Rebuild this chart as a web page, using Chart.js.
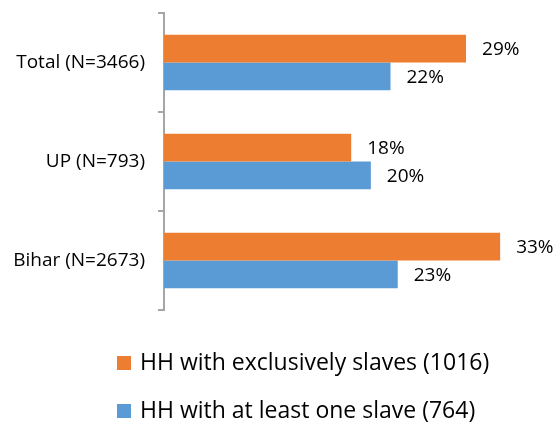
<!DOCTYPE html>
<html>
<head>
<meta charset="utf-8">
<script src="https://cdn.jsdelivr.net/npm/chart.js@4"></script>
<style>
  html, body { margin: 0; padding: 0; background: #fff; }
  #wrap { position: relative; width: 555px; height: 422px; }
</style>
</head>
<body>
<div id="wrap"><canvas id="chart" width="555" height="422"></canvas></div>
<script>
const categories = ["Total (N=3466)", "UP (N=793)", "Bihar (N=2673)"];
const seriesNames = ["HH with exclusively slaves (1016)", "HH with at least one slave (764)"];
const exclusivelySlaves = [29.2, 18.1, 32.5];
const atLeastOneSlave = [21.9, 20.0, 22.6];
const seriesColors = ["#ED7D31", "#5B9BD5"];

const FONT = "'Open Sans', 'Liberation Sans', sans-serif";

// valeurs en % au bout des barres
const barLabels = {
  id: "barLabels",
  afterDatasetsDraw(chart) {
    const ctx = chart.ctx;
    ctx.save();
    ctx.font = "19px " + FONT;
    ctx.fillStyle = "#000";
    ctx.textBaseline = "middle";
    ctx.textAlign = "left";
    chart.data.datasets.forEach(function (ds, i) {
      chart.getDatasetMeta(i).data.forEach(function (bar, j) {
        ctx.fillText(Math.round(ds.data[j]) + "%", bar.x + 16, bar.y + 1);
      });
    });
    ctx.restore();
  }
};

// légende verticale, alignée à gauche
const stackedLegend = {
  id: "stackedLegend",
  afterDraw(chart) {
    const ctx = chart.ctx;
    ctx.save();
    ctx.font = "23px " + FONT;
    ctx.textBaseline = "middle";
    chart.data.datasets.forEach(function (ds, i) {
      const y = 363 + i * 48;
      ctx.fillStyle = ds.backgroundColor;
      ctx.fillRect(117, y - 7, 14, 14);
      ctx.fillStyle = "#000";
      ctx.fillText(ds.label, 140, y);
    });
    ctx.restore();
  }
};

new Chart(document.getElementById("chart"), {
  type: "bar",
  data: {
    labels: categories,
    datasets: [
      { label: seriesNames[0], data: exclusivelySlaves, backgroundColor: seriesColors[0] },
      { label: seriesNames[1], data: atLeastOneSlave, backgroundColor: seriesColors[1] }
    ]
  },
  options: {
    indexAxis: "y",
    responsive: false,
    animation: false,
    devicePixelRatio: 1,
    datasets: { bar: { barPercentage: 1, categoryPercentage: 0.56 } },
    layout: { padding: { top: 13, right: 29, bottom: 112, left: 0 } },
    scales: {
      x: { display: false, min: 0, max: 35 },
      y: {
        afterFit(scale) {
          scale.width = 164;
          scale.paddingTop = 0;
          scale.paddingBottom = 0;
        },
        grid: { drawOnChartArea: false, tickLength: 6, color: "#a6a6a6", offset: true, lineWidth: 2 },
        border: { color: "#a6a6a6", width: 2 },
        ticks: { color: "#000", font: { family: FONT, size: 19 }, padding: 13 }
      }
    },
    plugins: {
      legend: { display: false },
      tooltip: { enabled: false }
    }
  },
  plugins: [barLabels, stackedLegend]
});
</script>
</body>
</html>
